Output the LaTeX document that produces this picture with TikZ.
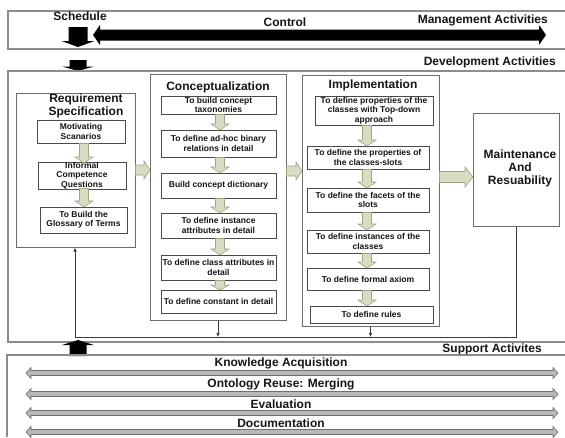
\documentclass[tikz,border=0pt]{standalone}
\usepackage{fontspec}
\setmainfont{Liberation Sans}
\usetikzlibrary{arrows.meta}
\definecolor{txt}{HTML}{151515}
\definecolor{framec}{HTML}{8C8C8C}
\definecolor{panelc}{HTML}{6C6C6C}
\definecolor{boxln}{HTML}{4A4A4A}
\definecolor{gfill}{HTML}{D9DCC3}
\definecolor{gdraw}{HTML}{A0A386}
\definecolor{sfill}{HTML}{B8B8B8}
\definecolor{sdraw}{HTML}{6E6E6E}
\definecolor{connc}{HTML}{3A3A3A}

% vertical block arrow: style, x, y tail, y tip, shaft half, head half, head length (signed)
\newcommand\varrow[7]{\path[#1] ({#2-(#5)},#3) -- ({#2+(#5)},#3) -- ({#2+(#5)},{#4-(#7)}) -- ({#2+(#6)},{#4-(#7)}) -- (#2,#4) -- ({#2-(#6)},{#4-(#7)}) -- ({#2-(#5)},{#4-(#7)}) -- cycle;}
% horizontal block arrow to the right: style, y, x tail, x tip, shaft half, head half, head length
\newcommand\harrow[7]{\path[#1] (#3,{#2-(#5)}) -- (#3,{#2+(#5)}) -- ({#4-(#7)},{#2+(#5)}) -- ({#4-(#7)},{#2+(#6)}) -- (#4,#2) -- ({#4-(#7)},{#2-(#6)}) -- ({#4-(#7)},{#2-(#5)}) -- cycle;}
% horizontal double block arrow: style, y, x left tip, x right tip, shaft half, head half, head length
\newcommand\dharrow[7]{\path[#1] (#3,#2) -- ({#3+(#7)},{#2-(#6)}) -- ({#3+(#7)},{#2-(#5)}) -- ({#4-(#7)},{#2-(#5)}) -- ({#4-(#7)},{#2-(#6)}) -- (#4,#2) -- ({#4-(#7)},{#2+(#6)}) -- ({#4-(#7)},{#2+(#5)}) -- ({#3+(#7)},{#2+(#5)}) -- ({#3+(#7)},{#2+(#6)}) -- cycle;}

\tikzset{
  head/.style={font=\fontsize{12}{13}\selectfont\bfseries, text=txt, inner sep=0pt, align=center},
  frameline/.style={draw=framec, line width=1.2pt},
  panel/.style={draw=panelc, line width=1pt, fill=white, inner sep=0pt},
  ibox/.style={draw=boxln, line width=0.8pt, fill=white, inner sep=0pt, align=center,
    font=\fontsize{8.5}{9.5}\selectfont\bfseries, text=txt},
  garrow/.style={fill=gfill, draw=gdraw, line width=0.6pt},
  barrow/.style={fill=black},
  sarrow/.style={fill=sfill, draw=sdraw, line width=0.6pt},
  conn/.style={draw=connc, line width=0.7pt, -{Latex[length=4pt,width=3.5pt]}},
}

\begin{document}
\begin{tikzpicture}[x=1pt,y=-1pt]
\useasboundingbox (0,0) rectangle (565,437);

% ---------- Management ----------
\draw[frameline] (565,11) -- (8,11) -- (8,49) -- (565,49);
\node[head] (sched) at (80,16) {Schedule};
\node[head] (ctrl) at (285,22) {Control};
\node[head, anchor=east] (mgmt) at (548,20) {Management Activities};
\varrow{barrow}{78}{27}{47}{9.5}{16.5}{6}
\dharrow{barrow}{35}{93}{546}{5.5}{10}{7}

% ---------- Development ----------
\varrow{barrow}{78}{60}{71}{8.5}{16}{4.5}
\node[head, anchor=east] (dev) at (556,62) {Development Activities};
\draw[frameline] (565,71) -- (8,71) -- (8,342) -- (565,342);

% Requirement specification
\node[panel, minimum width=119pt, minimum height=154pt] (req) at (75.5,170) {};
\node[head] (reqt) at (86,105.5) {Requirement\\Specification};
\node[ibox, minimum width=88pt, minimum height=23pt] (mot) at (81,131.5) {Motivating\\Scanarios};
\node[ibox, minimum width=88pt, minimum height=25pt] (inf) at (82,175.5) {Informal\\Competence\\Questions};
\node[ibox, minimum width=87pt, minimum height=26pt] (glo) at (83.5,220) {To Build the\\Glossary of Terms};
\varrow{garrow}{84}{143.5}{163}{4.5}{9}{6}
\varrow{garrow}{84}{188.5}{207}{4.5}{9}{6}

% Conceptualization
\node[panel, minimum width=136pt, minimum height=246pt] (conc) at (218,197) {};
\node[head] (conct) at (218,87) {Conceptualization};
\node[ibox, minimum width=115pt, minimum height=18pt] (c1) at (218.5,105) {To build concept\\taxonomies};
\node[ibox, minimum width=115pt, minimum height=27pt] (c2) at (218.5,143.5) {To define ad-hoc binary\\relations in detail};
\node[ibox, minimum width=115pt, minimum height=25pt] (c3) at (218.5,185.5) {Build concept dictionary};
\node[ibox, minimum width=115pt, minimum height=25pt] (c4) at (218.5,225.5) {To define instance\\attributes in detail};
\node[ibox, minimum width=115pt, minimum height=25pt] (c5) at (218.5,267.5) {To define class attributes in\\detail};
\node[ibox, minimum width=115pt, minimum height=23pt] (c6) at (218.5,301.5) {To define constant in detail};
\varrow{garrow}{220}{114.5}{130}{4.5}{9}{6}
\varrow{garrow}{220}{157.5}{173}{4.5}{9}{6}
\varrow{garrow}{220}{198.5}{213}{4.5}{9}{6}
\varrow{garrow}{220}{238.5}{255}{4.5}{9}{6}
\varrow{garrow}{220}{280.5}{290}{4.5}{9}{5}

% Implementation
\node[panel, minimum width=137pt, minimum height=251pt] (impl) at (370.5,200.5) {};
\node[head] (implt) at (373,85) {Implementation};
\node[ibox, minimum width=118pt, minimum height=29pt] (i1) at (374,110.5) {To define properties of the\\classes with Top-down\\approach};
\node[ibox, minimum width=122pt, minimum height=23pt] (i2) at (368,157.5) {To define the properties of\\the classes-slots};
\node[ibox, minimum width=122pt, minimum height=24pt] (i3) at (368,200) {To define the facets of the\\slots};
\node[ibox, minimum width=122pt, minimum height=23pt] (i4) at (368,241.5) {To define instances of the\\classes};
\node[ibox, minimum width=122pt, minimum height=22pt] (i5) at (368,279) {To define formal axiom};
\node[ibox, minimum width=123pt, minimum height=17pt] (i6) at (371.5,314.5) {To define rules};
\varrow{garrow}{367}{125.5}{146}{4.5}{9}{6}
\varrow{garrow}{367}{169.5}{188}{4.5}{9}{6}
\varrow{garrow}{367}{212.5}{230}{4.5}{9}{6}
\varrow{garrow}{367}{253.5}{268}{4.5}{9}{6}
\varrow{garrow}{367}{290.5}{306}{4.5}{9}{6}

% Maintenance
\node[panel, minimum width=86pt, minimum height=113pt] (maint) at (516,169.5) {};
\node[head] (maintt) at (520,168) {Maintenance\\And\\Resuability};

% panel-to-panel block arrows
\harrow{garrow}{170}{135.5}{150}{5}{9}{6}
\harrow{garrow}{171}{286.5}{302}{5}{9}{6}
\harrow{garrow}{177}{439.5}{473}{5.5}{10}{8}

% feedback connectors
\coordinate (jr) at (75,337);
\draw[conn] (maint.south) |- (jr) -- (jr |- req.south);
\draw[conn] (conc.south) -- (conc.south |- jr);
\draw[conn] (impl.south) -- (impl.south |- jr);

% ---------- Support ----------
\varrow{barrow}{78}{356}{340}{8.5}{16}{-5}
\node[head, anchor=east] (sup) at (542,349) {Support Activites};
\draw[frameline] (565,355) -- (7,355) -- (7,437);
\node[head] (ka) at (281,363) {Knowledge Acquisition};
\node[head] (or) at (281,384) {Ontology Reuse: Merging};
\node[head] (ev) at (281,404) {Evaluation};
\node[head] (doc) at (281,423) {Documentation};
\dharrow{sarrow}{373}{26}{558}{2.5}{5.5}{5}
\dharrow{sarrow}{394}{26}{558}{2.5}{5.5}{5}
\dharrow{sarrow}{413}{26}{558}{2.5}{5.5}{5}
\dharrow{sarrow}{432}{26}{558}{2.5}{5.5}{5}
\end{tikzpicture}
\end{document}
